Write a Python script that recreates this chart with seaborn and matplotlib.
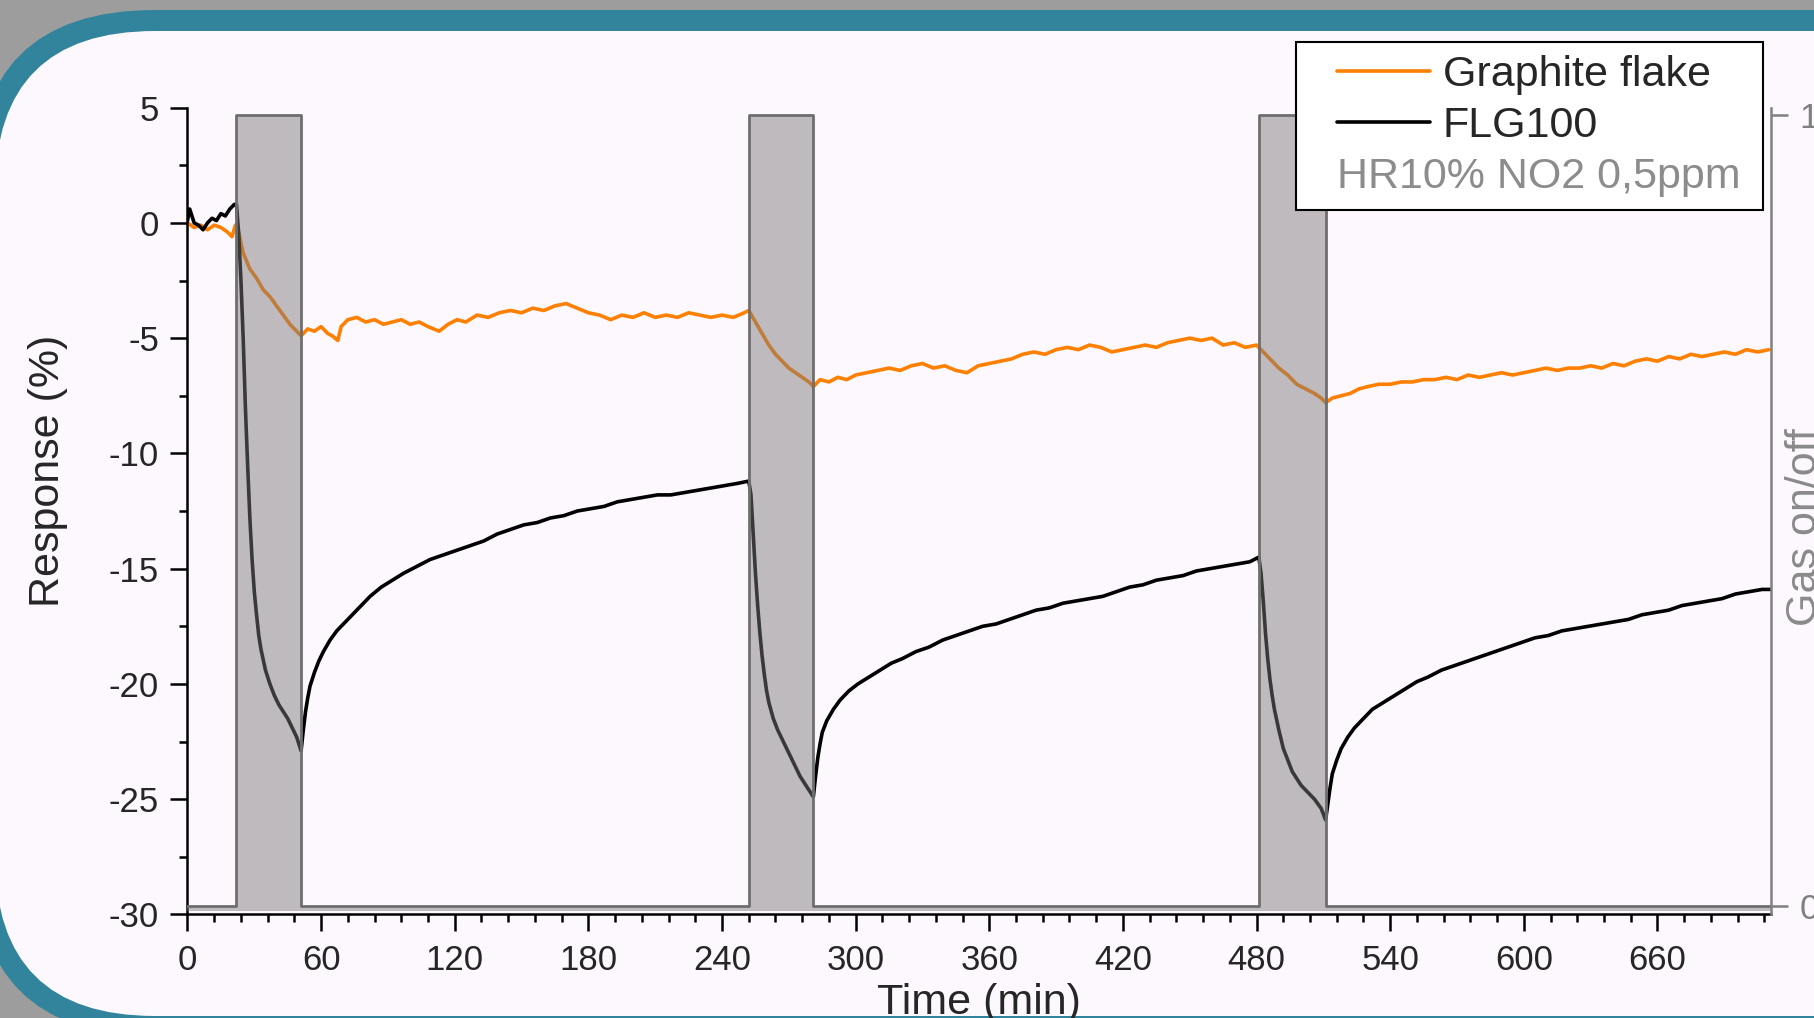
import matplotlib
matplotlib.use("Agg")
import matplotlib.pyplot as plt
from matplotlib.patches import FancyBboxPatch
from matplotlib.ticker import MultipleLocator
from matplotlib.offsetbox import HPacker, DrawingArea
import seaborn as sns

# Graphite flake response (%) vs time (min)
graphite_time = [0, 3, 6, 9, 12, 15, 18, 20, 21.5, 23, 25, 28, 31, 34, 37, 40, 43, 46, 49, 51,
                 54, 57, 60, 63, 65, 67.5, 69, 72, 76, 80, 84, 88, 92, 96, 100, 104, 108, 113,
                 117, 121, 125, 130, 135, 140, 145, 150, 155, 160, 165, 170, 175, 180, 185, 190,
                 195, 200, 205, 210, 215, 220, 225, 230, 235, 240, 245, 250, 252, 255, 258, 261,
                 264, 267, 270, 273, 276, 279, 281, 284, 288, 292, 296, 300, 305, 310, 315, 320,
                 325, 330, 335, 340, 345, 350, 355, 360, 365, 370, 375, 380, 385, 390, 395, 400,
                 405, 410, 415, 420, 425, 430, 435, 440, 445, 450, 455, 460, 465, 470, 475, 480,
                 482, 486, 490, 494, 498, 502, 506, 509, 511, 514, 518, 522, 526, 530, 535, 540,
                 545, 550, 555, 560, 565, 570, 575, 580, 585, 590, 595, 600, 605, 610, 615, 620,
                 625, 630, 635, 640, 645, 650, 655, 660, 665, 670, 675, 680, 685, 690, 695, 700,
                 705, 710]
graphite_resp = [0.0, -0.2, -0.1, -0.3, -0.1, -0.2, -0.4, -0.6, -0.1, -0.4, -1.3, -2.0, -2.4,
                 -2.9, -3.2, -3.6, -4.0, -4.4, -4.7, -4.9, -4.6, -4.7, -4.5, -4.8, -4.9, -5.1,
                 -4.5, -4.2, -4.1, -4.3, -4.2, -4.4, -4.3, -4.2, -4.4, -4.3, -4.5, -4.7, -4.4,
                 -4.2, -4.3, -4.0, -4.1, -3.9, -3.8, -3.9, -3.7, -3.8, -3.6, -3.5, -3.7, -3.9,
                 -4.0, -4.2, -4.0, -4.1, -3.9, -4.1, -4.0, -4.1, -3.9, -4.0, -4.1, -4.0, -4.1,
                 -3.9, -3.8, -4.3, -4.8, -5.3, -5.7, -6.0, -6.3, -6.5, -6.7, -6.9, -7.1, -6.8,
                 -6.9, -6.7, -6.8, -6.6, -6.5, -6.4, -6.3, -6.4, -6.2, -6.1, -6.3, -6.2, -6.4,
                 -6.5, -6.2, -6.1, -6.0, -5.9, -5.7, -5.6, -5.7, -5.5, -5.4, -5.5, -5.3, -5.4,
                 -5.6, -5.5, -5.4, -5.3, -5.4, -5.2, -5.1, -5.0, -5.1, -5.0, -5.3, -5.2, -5.4,
                 -5.3, -5.5, -5.9, -6.3, -6.6, -7.0, -7.2, -7.4, -7.6, -7.8, -7.6, -7.5, -7.4,
                 -7.2, -7.1, -7.0, -7.0, -6.9, -6.9, -6.8, -6.8, -6.7, -6.8, -6.6, -6.7, -6.6,
                 -6.5, -6.6, -6.5, -6.4, -6.3, -6.4, -6.3, -6.3, -6.2, -6.3, -6.1, -6.2, -6.0,
                 -5.9, -6.0, -5.8, -5.9, -5.7, -5.8, -5.7, -5.6, -5.7, -5.5, -5.6, -5.5]

# FLG100 response (%) vs time (min)
flg_time = [0, 1, 3, 5, 7, 9, 11, 13, 15, 17, 19, 21, 22, 23, 24, 25, 26, 27, 28, 29, 30, 31,
            32, 33, 35, 37, 39, 41, 43, 45, 47, 49, 51, 52, 53, 54, 55, 57, 59, 61, 64, 67, 70,
            74, 78, 82, 87, 92, 97, 103, 109, 115, 121, 127, 133, 139, 145, 151, 157, 163, 169,
            175, 181, 187, 193, 199, 205, 211, 217, 223, 229, 235, 241, 247, 252, 253, 254, 255,
            256, 257, 258, 259, 260, 261, 263, 265, 267, 269, 271, 273, 275, 277, 279, 281, 282,
            283, 284, 285, 287, 290, 293, 297, 301, 306, 311, 316, 321, 327, 333, 339, 345, 351,
            357, 363, 369, 375, 381, 387, 393, 399, 405, 411, 417, 423, 429, 435, 441, 447, 453,
            459, 465, 471, 477, 481, 482, 483, 484, 485, 486, 487, 488, 490, 492, 494, 496, 498,
            500, 503, 506, 509, 511, 512, 513, 514, 516, 518, 521, 524, 528, 532, 537, 542, 547,
            552, 557, 563, 569, 575, 581, 587, 593, 599, 605, 611, 617, 623, 629, 635, 641, 647,
            653, 659, 665, 671, 677, 683, 689, 695, 701, 707, 711]
flg_resp = [0.1, 0.6, 0.0, -0.1, -0.3, 0.0, 0.2, 0.1, 0.4, 0.3, 0.6, 0.8, 0.8, -0.5, -2.5, -5.0,
            -8.0, -10.5, -12.8, -14.6, -16.0, -17.0, -17.9, -18.5, -19.4, -20.0, -20.5, -20.9,
            -21.2, -21.5, -21.9, -22.3, -22.9, -22.0, -21.2, -20.6, -20.1, -19.5, -19.0, -18.6,
            -18.1, -17.7, -17.4, -17.0, -16.6, -16.2, -15.8, -15.5, -15.2, -14.9, -14.6, -14.4,
            -14.2, -14.0, -13.8, -13.5, -13.3, -13.1, -13.0, -12.8, -12.7, -12.5, -12.4, -12.3,
            -12.1, -12.0, -11.9, -11.8, -11.8, -11.7, -11.6, -11.5, -11.4, -11.3, -11.2, -11.8,
            -13.5, -15.2, -16.6, -17.8, -18.8, -19.6, -20.3, -20.8, -21.5, -22.0, -22.4, -22.8,
            -23.2, -23.6, -24.0, -24.3, -24.6, -24.9, -24.0, -23.2, -22.6, -22.1, -21.6, -21.1,
            -20.7, -20.3, -20.0, -19.7, -19.4, -19.1, -18.9, -18.6, -18.4, -18.1, -17.9, -17.7,
            -17.5, -17.4, -17.2, -17.0, -16.8, -16.7, -16.5, -16.4, -16.3, -16.2, -16.0, -15.8,
            -15.7, -15.5, -15.4, -15.3, -15.1, -15.0, -14.9, -14.8, -14.7, -14.5, -15.2, -16.4,
            -17.8, -18.9, -19.8, -20.5, -21.1, -22.0, -22.8, -23.3, -23.8, -24.1, -24.4, -24.7,
            -25.0, -25.4, -25.9, -25.2, -24.5, -23.9, -23.3, -22.8, -22.3, -21.9, -21.5, -21.1,
            -20.8, -20.5, -20.2, -19.9, -19.7, -19.4, -19.2, -19.0, -18.8, -18.6, -18.4, -18.2,
            -18.0, -17.9, -17.7, -17.6, -17.5, -17.4, -17.3, -17.2, -17.0, -16.9, -16.8, -16.6,
            -16.5, -16.4, -16.3, -16.1, -16.0, -15.9, -15.9]

# gas on/off steps (NO2 pulses)
gas_time = [0, 22, 22, 51, 51, 252, 252, 281, 281, 481, 481, 511, 511, 711]
gas_state = [0, 0, 1, 1, 0, 0, 1, 1, 0, 0, 1, 1, 0, 0]

x_ticks = [0, 60, 120, 180, 240, 300, 360, 420, 480, 540, 600, 660]
y_ticks = [5, 0, -5, -10, -15, -20, -25, -30]

sns.set_style("ticks")
plt.rcParams['font.family'] = ['Liberation Sans', 'DejaVu Sans']
plt.rcParams['axes.unicode_minus'] = False

fig = plt.figure(figsize=(18.15, 10.18), dpi=100)
fig.patch.set_facecolor('#9d9d9d')

# rounded teal frame behind the chart
bg = fig.add_axes([0, 0, 1, 1], zorder=-10)
bg.set_xlim(0, 1815)
bg.set_ylim(1018, 0)
bg.axis('off')
bg.add_patch(FancyBboxPatch((-25, 10), 2400, 1026, boxstyle="round,pad=0,rounding_size=180",
                            fc='#31849b', ec='none'))
bg.add_patch(FancyBboxPatch((-5, 31), 2400, 985, boxstyle="round,pad=0,rounding_size=160",
                            fc='#fcf8fd', ec='none'))

ax = fig.add_axes([0.1033, 0.1017, 0.8725, 0.7926])
ax.set_facecolor('none')

sns.lineplot(x=graphite_time, y=graphite_resp, ax=ax, color='#ff8000', lw=2.6,
             label='Graphite flake', sort=False, estimator=None)
sns.lineplot(x=flg_time, y=flg_resp, ax=ax, color='black', lw=2.6,
             label='FLG100', sort=False, estimator=None)

ax.set_xlim(0, 711)
ax.set_ylim(-30, 5)
ax.set_xticks(x_ticks)
ax.set_yticks(y_ticks)
ax.xaxis.set_minor_locator(MultipleLocator(12))
ax.yaxis.set_minor_locator(MultipleLocator(2.5))
ax.tick_params(which='major', length=12.5, width=1.8, labelsize=25, color='black')
ax.tick_params(which='minor', length=6, width=1.8, color='black')
ax.tick_params(axis='x', pad=9)
ax.tick_params(axis='y', pad=8)
for s in ['top', 'right']:
    ax.spines[s].set_visible(False)
for s in ['left', 'bottom']:
    ax.spines[s].set_linewidth(1.8)
    ax.spines[s].set_color('black')
ax.set_xlabel('Time (min)', fontsize=31, labelpad=4)
ax.set_ylabel('Response (%)', fontsize=31)
ax.yaxis.set_label_coords(-0.0755, 0.55)

# gas on/off on a twin axis, drawn over the curves
ax2 = ax.twinx()
ax2.fill_between(gas_time, -0.006, gas_state, color='#7b787b', alpha=0.48, lw=0)
ax2.plot(gas_time, gas_state, color='#6e6e6e', lw=2)
ax2.set_ylim(-0.0102, 1.0088)
ax2.set_yticks([0, 1])
ax2.tick_params(axis='y', length=12.5, width=1.8, labelsize=25, color='#808080',
                labelcolor='#808080', pad=8)
for s in ['top', 'left', 'bottom']:
    ax2.spines[s].set_visible(False)
ax2.spines['right'].set_color('#808080')
ax2.spines['right'].set_linewidth(1.8)
ax2.set_ylabel('Gas on/off', fontsize=31, color='#8a8a8a', rotation=90)
ax2.yaxis.set_label_coords(1.0088, 0.48)

handles, labels = ax.get_legend_handles_labels()
ax.get_legend().remove()
leg = ax2.legend(handles, labels, loc='upper right', bbox_to_anchor=(1763 / 1815, 1 - 42 / 1018),
                 bbox_transform=fig.transFigure, borderaxespad=0, fontsize=31,
                 title='HR10% NO2 0,5ppm', title_fontsize=31, alignment='left', frameon=True,
                 fancybox=False, framealpha=1, facecolor='white', edgecolor='black',
                 borderpad=0.3, labelspacing=0.26, handlelength=2.15, handletextpad=0.3)
leg.get_frame().set_linewidth(1.5)
leg.get_title().set_color('#8c8c8c')
# condition line goes under the entries, with extra room left and right
leg._legend_box._children = [HPacker(children=[DrawingArea(20.5, 1), c, DrawingArea(6.5, 1)],
                                     pad=0, sep=0)
                             for c in leg._legend_box._children[::-1]]
leg.set_zorder(20)

fig.savefig('out.png', dpi=100, facecolor=fig.get_facecolor())
